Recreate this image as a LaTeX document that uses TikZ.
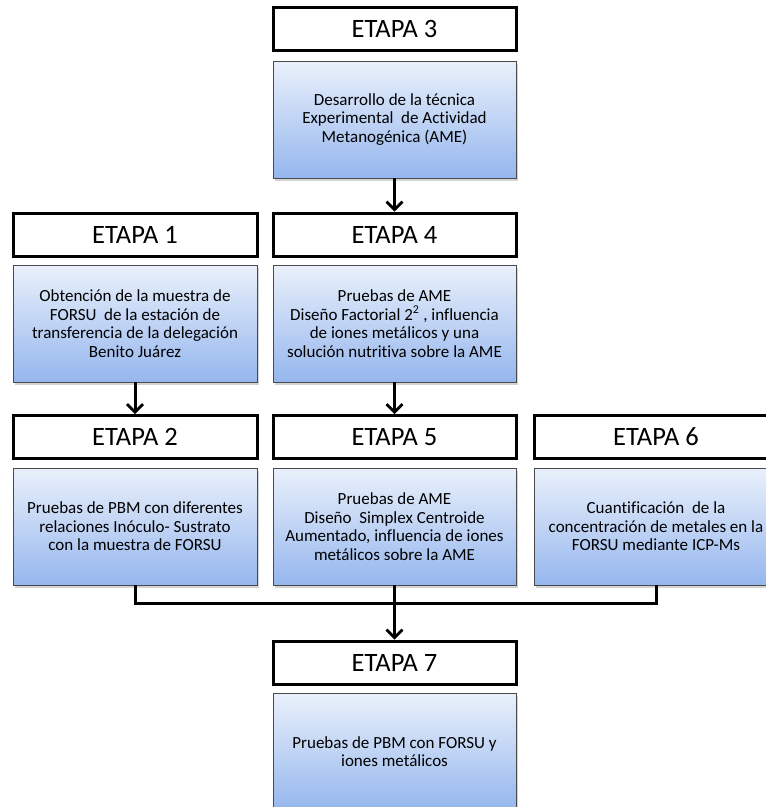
\documentclass[tikz,border=0pt]{standalone}
\usepackage{fontspec}
\setmainfont{Carlito}[Ligatures=NoCommon]
\usepackage{xcolor}
\usetikzlibrary{arrows.meta,shadows,positioning}

\definecolor{boxtop}{HTML}{EAF1FB}
\definecolor{boxbot}{HTML}{95B6EE}
\definecolor{boxline}{HTML}{4A4A4A}

\begin{document}
\begin{tikzpicture}[
  x=1pt, y=-1pt,
  etapa/.style={draw=black, line width=3pt, fill=white, minimum height=43pt,
    font=\fontsize{26.5}{30}\selectfont, inner sep=0pt},
  stagebox/.style={draw=boxline, line width=0.8pt, top color=boxtop, bottom color=boxbot,
    minimum height=117pt, align=center, inner sep=0pt,
    font=\fontsize{17}{18.6}\selectfont,
    drop shadow={shadow xshift=1.5pt, shadow yshift=-2.5pt, opacity=0.35}},
  flow/.style={line width=3pt, -{Straight Barb[length=8pt,width=16pt,line width=2.8pt]}},
  link/.style={line width=3pt}
]
\useasboundingbox (0,0) rectangle (766,807);

% Column 2, top
\node[etapa, minimum width=243pt] (h3) at (394.5,29) {ETAPA 3};
\node[stagebox, minimum width=243pt] (b3) at (394.5,119.5)
  {Desarrollo de la técnica\\Experimental\ \ de Actividad\\Metanogénica (AME)};

% Row of stages 1 and 4
\node[etapa, minimum width=244pt] (h1) at (135,234.5) {ETAPA 1};
\node[stagebox, minimum width=244pt] (b1) at (135,323.5)
  {Obtención de la muestra de\\FORSU\ \ de la estación de\\transferencia de la delegación\\Benito Juárez};
\node[etapa, minimum width=243pt] (h4) at (394.5,234.5) {ETAPA 4};
\node[stagebox, minimum width=243pt] (b4) at (394.5,323.5)
  {Pruebas de AME\\Diseño Factorial 2\textsuperscript{2} , influencia\\de iones metálicos y una\\solución nutritiva sobre la AME};

% Row of stages 2, 5 and 6
\node[etapa, minimum width=244pt] (h2) at (135,437) {ETAPA 2};
\node[stagebox, minimum width=244pt] (b2) at (135,526.5)
  {Pruebas de PBM con diferentes\\relaciones Inóculo- Sustrato\\con la muestra de FORSU};
\node[etapa, minimum width=243pt] (h5) at (394.5,437) {ETAPA 5};
\node[stagebox, minimum width=243pt] (b5) at (394.5,526.5)
  {Pruebas de AME\\Diseño\ \ Simplex Centroide\\Aumentado,\ influencia de iones\\metálicos sobre la AME};
\node[etapa, minimum width=244pt] (h6) at (656,437) {ETAPA 6};
\node[stagebox, minimum width=244pt] (b6) at (656,526.5)
  {Cuantificación\ \ de la\\concentración de metales en la\\FORSU mediante ICP-Ms};

% Column 2, bottom
\node[etapa, minimum width=243pt] (h7) at (394.5,662.5) {ETAPA 7};
\node[stagebox, minimum width=243pt] (b7) at (394.5,751.5)
  {Pruebas de PBM con FORSU y\\iones metálicos};

% Connectors
\coordinate (j2) at (b2.south |- 0,603);
\coordinate (j6) at (b6.south |- 0,603);
\draw[flow] (b3.south) -- (h4.north);
\draw[flow] (b1.south) -- (h2.north);
\draw[flow] (b4.south) -- (h5.north);
\draw[link] (b2.south) -- (j2) -- (j6) -- (b6.south);
\draw[flow] (b5.south) -- (h7.north);

\end{tikzpicture}
\end{document}
